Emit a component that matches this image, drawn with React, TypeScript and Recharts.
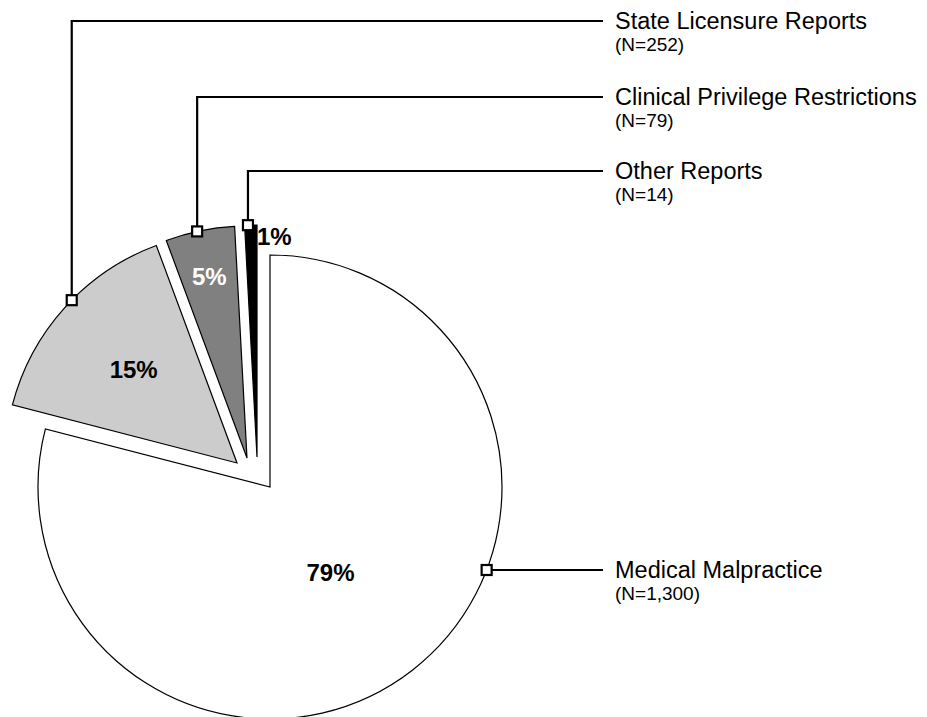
import React from 'react';
import { PieChart, Pie, Cell, Sector } from 'recharts';

// ---- data ----
const categories = [
  'Medical Malpractice',
  'State Licensure Reports',
  'Clinical Privilege Restrictions',
  'Other Reports',
];
const counts = [1300, 252, 79, 14];
const countLabels = ['(N=1,300)', '(N=252)', '(N=79)', '(N=14)'];

const data = categories.map((name, i) => ({ name, value: counts[i], nLabel: countLabels[i] }));

// ---- styles ----
const FONT = '"Liberation Sans", Arial, Helvetica, sans-serif';
const FILLS = ['#ffffff', '#cccccc', '#808080', '#000000'];
const PCT_COLORS = ['#000000', '#000000', '#ffffff', '#000000'];
// explode offsets (px) of each slice
const EXPLODE: number[][] = [[0, 0], [-33, -24], [-23, -29], [-13, -30]];
// percent label placement: [radius fraction, angle shift deg]
const PCT_POS: number[][] = [[0.45, -2.3], [0.6, 0], [0.8, 0], [0.955, -6]];
const MARKER_SHIFT = [0, -2.5, 0.7, 0.7];
const LEADER_Y = [570, 21, 97, 171];
const LEADER_END_X = 603;
const TEXT_X = 615;
const RAD = Math.PI / 180;

const idxOf = (p: any) => {
  const name = p?.payload?.name ?? p?.name;
  const i = categories.indexOf(name);
  return i >= 0 ? i : p?.index ?? 0;
};

const ExplodedSector = (props: any) => {
  const i = idxOf(props);
  const [dx, dy] = EXPLODE[i] ?? [0, 0];
  return (
    <Sector
      cx={props.cx + dx}
      cy={props.cy + dy}
      innerRadius={props.innerRadius}
      outerRadius={props.outerRadius}
      startAngle={props.startAngle}
      endAngle={props.endAngle}
      fill={FILLS[i]}
      stroke="#000000"
      strokeWidth={1.2}
    />
  );
};

const renderLabel = (props: any) => {
  const { cx, cy, midAngle, outerRadius, percent } = props;
  const i = idxOf(props);
  const [dx, dy] = EXPLODE[i] ?? [0, 0];
  const vx = cx + dx;
  const vy = cy + dy;
  const R = outerRadius;
  // percent text
  const [rf, shift] = PCT_POS[i];
  const pa = (midAngle + shift) * RAD;
  const px = vx + R * rf * Math.cos(pa);
  const py = vy - R * rf * Math.sin(pa);
  // leader marker
  const ly = LEADER_Y[i];
  let mx: number;
  let my: number;
  if (i === 0) {
    my = ly;
    mx = vx + Math.sqrt(Math.max(0, R * R - (ly - vy) * (ly - vy)));
  } else {
    const ma = (midAngle + MARKER_SHIFT[i]) * RAD;
    mx = vx + R * Math.cos(ma);
    my = vy - R * Math.sin(ma);
  }
  const pts = `${mx},${my} ${mx},${ly} ${LEADER_END_X},${ly}`;
  return (
    <g key={`lbl-${i}`}>
      <polyline points={pts} fill="none" stroke="#000000" strokeWidth={2.2} />
      <rect x={mx - 5} y={my - 5} width={10} height={10} fill="#ffffff" stroke="#000000" strokeWidth={2.2} />
      <text
        x={px}
        y={py}
        textAnchor="middle"
        dominantBaseline="central"
        fontFamily={FONT}
        fontWeight="bold"
        fontSize={24}
        fill={PCT_COLORS[i]}
      >
        {`${Math.round(percent * 100)}%`}
      </text>
      <text x={TEXT_X} y={ly + 8} fontFamily={FONT} fontSize={23.5} fill="#000000">
        {categories[i]}
      </text>
      <text x={TEXT_X} y={ly + 30} fontFamily={FONT} fontSize={19} fill="#000000">
        {countLabels[i]}
      </text>
    </g>
  );
};

export default function App() {
  return (
    <div style={{ position: 'absolute', left: 0, top: 0, width: 927, height: 717, overflow: 'hidden', background: '#ffffff' }}>
      <PieChart width={927} height={717} margin={{ top: 0, right: 0, bottom: 0, left: 0 }}>
        <Pie
          data={data}
          dataKey="value"
          nameKey="name"
          cx={270}
          cy={487}
          innerRadius={0}
          outerRadius={232}
          startAngle={90}
          endAngle={-270}
          stroke="#000000"
          strokeWidth={1.2}
          isAnimationActive={false}
          labelLine={false}
          label={renderLabel}
          shape={ExplodedSector}
        >
          {data.map((d, i) => (
            <Cell key={d.name} fill={FILLS[i]} />
          ))}
        </Pie>
      </PieChart>
    </div>
  );
}
